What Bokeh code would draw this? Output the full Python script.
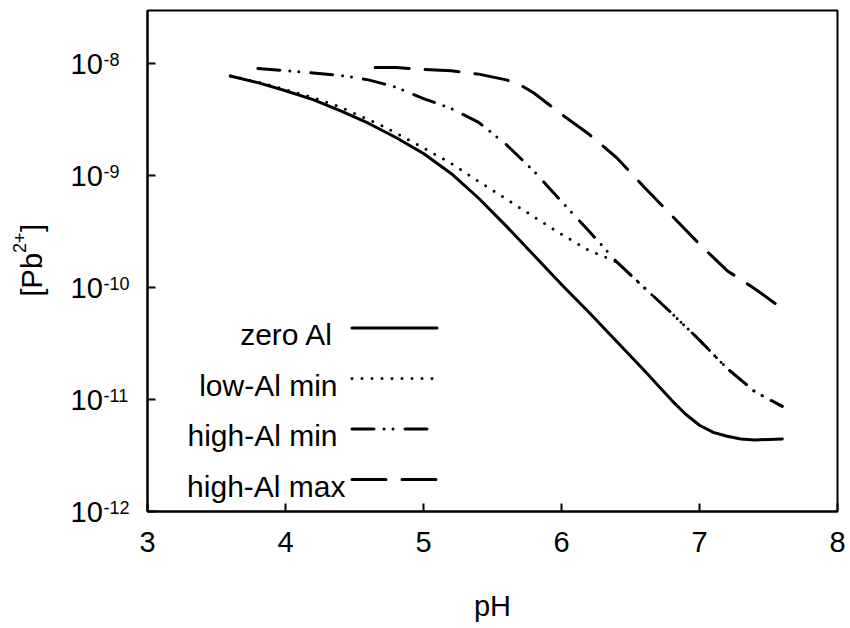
import math
from bokeh.plotting import figure
from bokeh.models import FixedTicker, CustomJSTickFormatter
from bokeh.core.properties import value
from bokeh.embed import file_html
from bokeh.resources import INLINE

# ---------------- data ----------------
ph_zero = [3.6, 3.8, 4.0, 4.2, 4.4, 4.6, 4.8, 5.0, 5.2, 5.4, 5.6, 5.8, 6.0, 6.2,
           6.4, 6.6, 6.8, 6.9, 7.0, 7.1, 7.2, 7.3, 7.4, 7.6]
pb_zero = [7.8e-9, 6.8e-9, 5.75e-9, 4.8e-9, 3.8e-9, 2.95e-9, 2.2e-9, 1.58e-9, 1.05e-9,
           6.3e-10, 3.55e-10, 1.95e-10, 1.07e-10, 6.0e-11, 3.3e-11, 1.82e-11,
           9.8e-12, 7.4e-12, 5.9e-12, 5.1e-12, 4.7e-12, 4.45e-12, 4.36e-12, 4.45e-12]

ph_low = [3.6, 3.8, 4.0, 4.2, 4.4, 4.7, 5.0, 5.2, 5.4, 5.6, 5.8, 6.0, 6.2, 6.4,
          6.6, 6.8, 7.0, 7.2, 7.4, 7.6]
pb_low = [7.8e-9, 6.9e-9, 5.9e-9, 5.0e-9, 4.1e-9, 2.8e-9, 1.78e-9, 1.29e-9, 8.9e-10,
          6.2e-10, 4.3e-10, 3.0e-10, 2.15e-10, 1.7e-10, 1.0e-10, 5.9e-11,
          3.4e-11, 1.9e-11, 1.18e-11, 8.7e-12]

ph_hmin = [3.8, 4.0, 4.2, 4.4, 4.6, 4.8, 5.0, 5.2, 5.4, 5.6, 5.8, 6.0, 6.2, 6.4,
           6.6, 6.8, 7.0, 7.2, 7.4, 7.6]
pb_hmin = [9.1e-9, 8.7e-9, 8.3e-9, 7.9e-9, 7.2e-9, 6.2e-9, 4.9e-9, 4.0e-9, 3.0e-9,
           1.9e-9, 1.1e-9, 5.9e-10, 3.2e-10, 1.7e-10, 1.0e-10, 5.9e-11,
           3.4e-11, 1.9e-11, 1.18e-11, 8.7e-12]

ph_hmax = [4.65, 4.8, 5.0, 5.2, 5.4, 5.6, 5.7, 5.8, 6.0, 6.2, 6.4, 6.6, 6.8, 7.0,
           7.2, 7.4, 7.6]
pb_hmax = [9.3e-9, 9.3e-9, 8.9e-9, 8.7e-9, 8.1e-9, 7.2e-9, 6.5e-9, 5.5e-9, 3.55e-9,
           2.35e-9, 1.45e-9, 7.9e-10, 4.4e-10, 2.45e-10, 1.42e-10, 9.8e-11, 6.5e-11]

x_ticks = [3, 4, 5, 6, 7, 8]
y_ticks = [1e-12, 1e-11, 1e-10, 1e-9, 1e-8]
y_tick_exponents = ["-12", "-11", "-10", "-9", "-8"]
legend_labels = ["zero Al", "low-Al min", "high-Al min", "high-Al max"]

# ---------------- layout / style ----------------
FONT = "Liberation Sans"
W, H = 850, 628
BL, BR, BT, BB = 147, 13, 10, 117
X0, X1 = 3, 8
Y0, Y1 = 1e-12, 3e-8
FW, FH = W - BL - BR, H - BT - BB


def px2x(px):
    return X0 + (px - BL) / FW * (X1 - X0)


def py2y(py):
    lt, lb = math.log10(Y1), math.log10(Y0)
    return 10 ** (lt - (py - BT) / FH * (lt - lb))


p = figure(width=W, height=H, x_range=(X0, X1), y_range=(Y0, Y1),
           y_axis_type="log", output_backend="svg", toolbar_location=None,
           min_border_left=BL, min_border_right=BR, min_border_top=BT,
           min_border_bottom=BB)
p.background_fill_color = "white"
p.border_fill_color = "white"
p.outline_line_color = "black"
p.outline_line_width = 2
p.xgrid.visible = False
p.ygrid.visible = False

for ax in (p.xaxis[0], p.yaxis[0]):
    ax.axis_line_width = 2
    ax.axis_line_color = "black"
    ax.major_tick_in = 8
    ax.major_tick_out = 0
    ax.major_tick_line_width = 2
    ax.major_tick_line_color = "black"
    ax.minor_tick_in = 0
    ax.minor_tick_out = 0

p.xaxis.ticker = FixedTicker(ticks=x_ticks, minor_ticks=[])
p.xaxis.major_label_text_font = FONT
p.xaxis.major_label_text_font_size = "29px"
p.xaxis.major_label_text_color = "black"
p.xaxis.major_label_standoff = 20
p.xaxis.axis_label = "pH"
p.xaxis.axis_label_text_font = FONT
p.xaxis.axis_label_text_font_size = "29px"
p.xaxis.axis_label_text_font_style = "normal"
p.xaxis.axis_label_text_color = "black"
p.xaxis.axis_label_standoff = 35

p.yaxis.ticker = FixedTicker(ticks=y_ticks, minor_ticks=[])
p.yaxis.formatter = CustomJSTickFormatter(code="return ''")

txt = dict(text_font=value(FONT), text_color="black", level="overlay")
SHIFT = 11  # alphabetic-baseline correction

# y tick labels 10^n  (text glyphs at overlay level, outside the frame)
n = len(y_ticks)
p.text(x=[X0] * n, y=y_ticks, text=["10"] * n, x_offset=-77, y_offset=0,
       text_font_size="29px", text_align="left", text_baseline="middle", **txt)
p.text(x=[X0] * n, y=y_ticks, text=y_tick_exponents, x_offset=-44, y_offset=-4,
       text_font_size="18px", text_align="left", text_baseline="middle", **txt)

# y axis title [Pb2+]
yt = py2y(296)
p.text(x=[X0], y=[yt], text=["[Pb"], angle=math.pi / 2, x_offset=-105 - SHIFT, y_offset=0,
       text_font_size="29px", text_align="left", text_baseline="alphabetic", **txt)
p.text(x=[X0], y=[yt], text=["2+"], angle=math.pi / 2, x_offset=-117 - SHIFT, y_offset=-43.5,
       text_font_size="18px", text_align="left", text_baseline="alphabetic", **txt)
p.text(x=[X0], y=[yt], text=["]"], angle=math.pi / 2, x_offset=-105 - SHIFT, y_offset=-64.5,
       text_font_size="29px", text_align="left", text_baseline="alphabetic", **txt)

# curves
styles = [
    dict(line_dash="solid"),
    dict(line_dash="0 10"),
    dict(line_dash="22 10 0 9 0 12"),
    dict(line_dash="34 16"),
]
series = [(ph_zero, pb_zero), (ph_low, pb_low), (ph_hmin, pb_hmin), (ph_hmax, pb_hmax)]
for (xs, ys), st in zip(series, styles):
    p.line(xs, ys, line_color="black", line_width=3, line_cap="round",
           line_join="round", **st)

# legend (text left, sample right)
text_right = [333, 337, 337, 345]
for i, (lab, st) in enumerate(zip(legend_labels, styles)):
    base = 345 + 50.5 * i
    ly = base - 17.5
    p.text(x=[px2x(text_right[i])], y=[py2y(base)], text=[lab], y_offset=-SHIFT,
           text_font_size="30px", text_align="right", text_baseline="alphabetic", **txt)
    p.line([px2x(351.5), px2x(436.5)], [py2y(ly), py2y(ly)], line_color="black",
           line_width=3, line_cap="round", **st)

open("out.html", "w").write(file_html(p, INLINE))
